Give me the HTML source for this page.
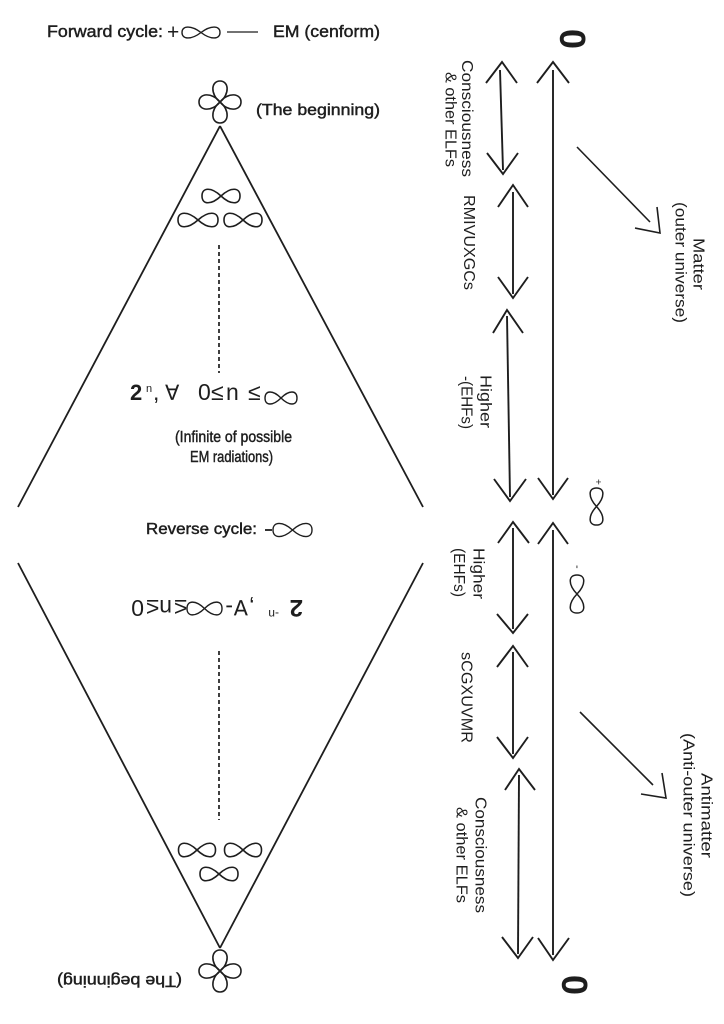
<!DOCTYPE html>
<html>
<head>
<meta charset="utf-8">
<style>
  html,body{margin:0;padding:0;background:#fff;}
  svg{display:block;}
  text{font-family:"Liberation Sans","DejaVu Sans",sans-serif;fill:#1e1e1e;}
  .l{stroke:#1e1e1e;stroke-width:0.45;}
  .r{font-size:16px;}
</style>
</head>
<body>
<svg width="724" height="1024" viewBox="0 0 724 1024" xmlns="http://www.w3.org/2000/svg">
  <!-- ===== Header ===== -->
  <text class="l" x="47" y="37" font-size="17" textLength="116" lengthAdjust="spacingAndGlyphs">Forward cycle:</text>
  <text x="167" y="39" font-size="21">+</text>
  <path d="M201,32.5 C210.5,25.2 220,25.2 220,32.5 C220,39.8 210.5,39.8 201,32.5 C191.5,25.2 182,25.2 182,32.5 C182,39.8 191.5,39.8 201,32.5 Z" fill="none" stroke="#1e1e1e" stroke-width="1.4"/>
  <line x1="227" y1="32" x2="258" y2="32" stroke="#1e1e1e" stroke-width="1.3"/>
  <text class="l" x="273" y="37" font-size="17" textLength="107" lengthAdjust="spacingAndGlyphs">EM (cenform)</text>

  <!-- ===== Clovers ===== -->
  <g fill="none" stroke="#1e1e1e" stroke-width="1.6">
    <g transform="translate(220,102)">
      <path d="M0,0 C-10,-8 -9,-21 0,-21 C9,-21 10,-8 0,0"/>
      <path d="M0,0 C-10,-8 -9,-21 0,-21 C9,-21 10,-8 0,0" transform="rotate(90)"/>
      <path d="M0,0 C-10,-8 -9,-21 0,-21 C9,-21 10,-8 0,0" transform="rotate(180)"/>
      <path d="M0,0 C-10,-8 -9,-21 0,-21 C9,-21 10,-8 0,0" transform="rotate(270)"/>
    </g>
    <g transform="translate(220,971)">
      <path d="M0,0 C-10,-8 -9,-21 0,-21 C9,-21 10,-8 0,0"/>
      <path d="M0,0 C-10,-8 -9,-21 0,-21 C9,-21 10,-8 0,0" transform="rotate(90)"/>
      <path d="M0,0 C-10,-8 -9,-21 0,-21 C9,-21 10,-8 0,0" transform="rotate(180)"/>
      <path d="M0,0 C-10,-8 -9,-21 0,-21 C9,-21 10,-8 0,0" transform="rotate(270)"/>
    </g>
  </g>
  <text class="l" x="256" y="115" font-size="16" textLength="124" lengthAdjust="spacingAndGlyphs">(The beginning)</text>
  <text class="l" x="57" y="984" font-size="16" textLength="125" lengthAdjust="spacingAndGlyphs" transform="rotate(180 119.5 980)">(The beginning)</text>

  <!-- ===== Diamond ===== -->
  <g stroke="#1e1e1e" stroke-width="1.8" fill="none">
    <line x1="220" y1="126" x2="18" y2="507"/>
    <line x1="220" y1="126" x2="423" y2="507"/>
    <line x1="18" y1="563" x2="220" y2="948"/>
    <line x1="423" y1="563" x2="220" y2="948"/>
  </g>

  <!-- infinity symbols -->
  <g fill="none" stroke="#1e1e1e" stroke-width="1.6">
    <path d="M221,196 C230.5,187 240,187 240,196 C240,205 230.5,205 221,196 C211.5,187 202,187 202,196 C202,205 211.5,205 221,196 Z"/>
    <path d="M198,220 C208,211 218,211 218,220 C218,229 208,229 198,220 C188,211 178,211 178,220 C178,229 188,229 198,220 Z"/>
    <path d="M243,220 C252.5,211 262,211 262,220 C262,229 252.5,229 243,220 C233.5,211 224,211 224,220 C224,229 233.5,229 243,220 Z"/>
    <path d="M197,850 C206.2,841 215.5,841 215.5,850 C215.5,859 206.2,859 197,850 C187.8,841 178.5,841 178.5,850 C178.5,859 187.8,859 197,850 Z"/>
    <path d="M243,850 C252.2,841 261.5,841 261.5,850 C261.5,859 252.2,859 243,850 C233.8,841 224.5,841 224.5,850 C224.5,859 233.8,859 243,850 Z"/>
    <path d="M219,874 C228.5,865 238,865 238,874 C238,883 228.5,883 219,874 C209.5,865 200,865 200,874 C200,883 209.5,883 219,874 Z"/>
  </g>

  <!-- dashed lines -->
  <line x1="219" y1="245" x2="219" y2="373" stroke="#1e1e1e" stroke-width="1.7" stroke-dasharray="4 3"/>
  <line x1="219" y1="651" x2="219" y2="820" stroke="#1e1e1e" stroke-width="1.7" stroke-dasharray="4 3"/>

  <!-- upper formula -->
  <g font-size="23">
    <text x="130" y="400" font-weight="bold" font-size="22">2</text>
    <text x="146" y="392" font-size="11">n</text>
    <text x="153" y="400">,</text>
    <text x="165" y="400" font-size="21">∀</text>
    <text x="198" y="400">0</text>
    <text x="211" y="400">≤</text>
    <text x="226" y="400">n</text>
    <text x="248" y="400">≤</text>
  </g>
  <path d="M281,398 C289,390 297,390 297,398 C297,406 289,406 281,398 C273,390 265,390 265,398 C265,406 273,406 281,398 Z" fill="none" stroke="#1e1e1e" stroke-width="1.4"/>

  <text class="l" x="175" y="442" font-size="16" textLength="117" lengthAdjust="spacingAndGlyphs">(Infinite of possible</text>
  <text class="l" x="190" y="462" font-size="16" textLength="83" lengthAdjust="spacingAndGlyphs">EM radiations)</text>

  <!-- reverse cycle -->
  <text class="l" x="146" y="534" font-size="15.5" textLength="111" lengthAdjust="spacingAndGlyphs">Reverse cycle:</text>
  <line x1="265" y1="530" x2="272" y2="530" stroke="#1e1e1e" stroke-width="1.8"/>
  <path d="M292.5,530 C302.2,521.3 312,521.3 312,530 C312,538.7 302.2,538.7 292.5,530 C282.8,521.3 273,521.3 273,530 C273,538.7 282.8,538.7 292.5,530 Z" fill="none" stroke="#1e1e1e" stroke-width="1.4"/>

  <!-- lower formula rotated 180 -->
  <g transform="rotate(180 217 607)">
    <text x="131" y="614" font-size="24" font-weight="bold">2</text>
    <text x="155" y="604" font-size="12">-n</text>
    <text x="179" y="614" font-size="23">,</text>
    <text x="186" y="614" font-size="21">∀</text>
    <text x="201" y="614" font-size="23">-</text>
    <path d="M229.5,605.5 C238.2,597 247,597 247,605.5 C247,614 238.2,614 229.5,605.5 C220.8,597 212,597 212,605.5 C212,614 220.8,614 229.5,605.5 Z" fill="none" stroke="#1e1e1e" stroke-width="1.4"/>
    <text x="247" y="614" font-size="23">≤</text>
    <text x="262" y="614" font-size="23">n</text>
    <text x="275" y="614" font-size="23">≤</text>
    <text x="290" y="614" font-size="23">0</text>
  </g>

  <!-- ===== Right side ===== -->
  <text transform="translate(560,39) rotate(90)" x="-10" y="0" font-size="36" font-weight="bold">0</text>
  <text transform="translate(562,985) rotate(90)" x="-10" y="0" font-size="36" font-weight="bold">0</text>

  <g stroke="#1e1e1e" stroke-width="1.9" fill="none" stroke-linejoin="miter">
    <line x1="553" y1="70" x2="553" y2="495"/>
    <polyline points="537,83 553,62 569,83"/>
    <polyline points="538,478 553,499 568,478"/>
    <line x1="553" y1="530" x2="553" y2="955"/>
    <polyline points="538,544 553,523 568,544"/>
    <polyline points="538,938 553,960 569,938"/>

    <line x1="500" y1="70" x2="503" y2="170"/>
    <polyline points="486,83 502,62 517,83"/>
    <polyline points="487,153 503,174 518,153"/>
    <line x1="513" y1="192" x2="513" y2="294"/>
    <polyline points="498,207 513,185 528,207"/>
    <polyline points="498,277 513,298 528,277"/>
    <line x1="507" y1="316" x2="510" y2="497"/>
    <polyline points="493,333 507,310 523,333"/>
    <polyline points="494,479 510,501 526,479"/>
    <line x1="513" y1="528" x2="513" y2="629"/>
    <polyline points="498,543 513,522 529,543"/>
    <polyline points="497,614 513,633 528,614"/>
    <line x1="513" y1="652" x2="513" y2="754"/>
    <polyline points="497,667 513,646 528,667"/>
    <polyline points="497,737 513,758 528,737"/>
    <line x1="519" y1="775" x2="518" y2="954"/>
    <polyline points="505,790 519,769 535,790"/>
    <polyline points="502,937 518,958 533,937"/>

    <line x1="577" y1="147" x2="650" y2="222" stroke-width="1.6"/>
    <polyline points="657,207 660,233 635,228" stroke-width="1.6"/>
    <line x1="580" y1="712" x2="653" y2="785" stroke-width="1.6"/>
    <polyline points="662,773 666,798 641,794" stroke-width="1.6"/>
  </g>

  <!-- vertical infinities -->
  <g fill="none" stroke="#1e1e1e" stroke-width="1.5">
    <path d="M596.5,506.5 C588,515.7 588,525 596.5,525 C605,525 605,515.7 596.5,506.5 C588,497.2 588,488 596.5,488 C605,488 605,497.2 596.5,506.5 Z"/>
    <path d="M577,594 C568,603.5 568,613 577,613 C586,613 586,603.5 577,594 C568,584.5 568,575 577,575 C586,575 586,584.5 577,594 Z"/>
  </g>
  <text transform="translate(595,482) rotate(90)" x="-3" y="0" font-size="10">+</text>
  <text transform="translate(574,567) rotate(90)" x="-2" y="0" font-size="11">-</text>

  <!-- rotated labels -->
  <g class="r">
    <text transform="translate(462,118.5) rotate(90)" x="-58.5" y="0" textLength="117" lengthAdjust="spacingAndGlyphs">Consciousness</text>
    <text transform="translate(445.5,119.5) rotate(90)" x="-47.5" y="0" textLength="95" lengthAdjust="spacingAndGlyphs">&amp; other ELFs</text>
    <text transform="translate(464,242.5) rotate(90)" x="-47.5" y="0" textLength="95" lengthAdjust="spacingAndGlyphs">RMIVUXGCs</text>
    <text transform="translate(480.5,401.5) rotate(90)" x="-26.5" y="0" textLength="53" lengthAdjust="spacingAndGlyphs">Higher</text>
    <text transform="translate(461.5,402.5) rotate(90)" x="-26.5" y="0" textLength="53" lengthAdjust="spacingAndGlyphs">-(EHFs)</text>
    <text transform="translate(473.5,573.5) rotate(90)" x="-25.5" y="0" textLength="51" lengthAdjust="spacingAndGlyphs">Higher</text>
    <text transform="translate(454,572.5) rotate(90)" x="-24.5" y="0" textLength="49" lengthAdjust="spacingAndGlyphs">(EHFs)</text>
    <text transform="translate(461.5,697.5) rotate(90)" x="-45.5" y="0" textLength="91" lengthAdjust="spacingAndGlyphs">sCGXUVMR</text>
    <text transform="translate(475.5,855) rotate(90)" x="-58" y="0" textLength="116" lengthAdjust="spacingAndGlyphs">Consciousness</text>
    <text transform="translate(456.5,855) rotate(90)" x="-48" y="0" textLength="96" lengthAdjust="spacingAndGlyphs">&amp; other ELFs</text>
    <text transform="translate(693.5,264) rotate(90)" x="-26" y="0" textLength="52" lengthAdjust="spacingAndGlyphs">Matter</text>
    <text transform="translate(675.5,262.5) rotate(90)" x="-60.5" y="0" textLength="121" lengthAdjust="spacingAndGlyphs">(outer universe)</text>
    <text transform="translate(701.5,815.5) rotate(90)" x="-42.5" y="0" textLength="85" lengthAdjust="spacingAndGlyphs">Antimatter</text>
    <text transform="translate(683.5,815) rotate(90)" x="-82" y="0" textLength="164" lengthAdjust="spacingAndGlyphs">(Anti-outer universe)</text>
  </g>
</svg>
</body>
</html>
